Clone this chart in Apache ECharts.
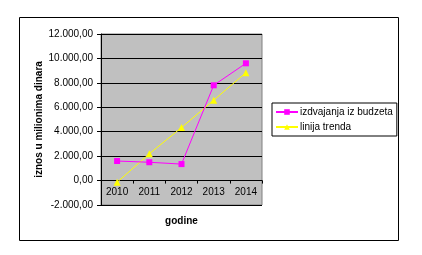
<!DOCTYPE html>
<html><head><meta charset="utf-8">
<script src="https://cdn.jsdelivr.net/npm/echarts@6/dist/echarts.min.js"></script>
<style>html,body{margin:0;padding:0;background:#fff}#c{width:422px;height:255px}</style>
</head><body><div id="c"></div>
<script>
const categories = ['2010','2011','2012','2013','2014'];
const budget = [1600, 1500, 1350, 7800, 9600];
const trend = [-140, 2190, 4340, 6580, 8830];
const seriesNames = ['izdvajanja iz budzeta', 'linija trenda'];
const yTicks = {min: -2000, max: 12000, interval: 2000};

function fmt(v){
  const neg = v < 0; v = Math.abs(v);
  const s = Math.round(v).toString().replace(/\B(?=(\d{3})+(?!\d))/g, '.');
  return (neg ? '-' : '') + s + ',00';
}
const font = 'Liberation Sans, Arial, sans-serif';
const gridH = 171;
const zeroOffset = gridH * (0 - yTicks.min) / (yTicks.max - yTicks.min);
const chart = echarts.init(document.getElementById('c'), null, {renderer:'canvas'});
chart.setOption({
  animation: false,
  backgroundColor: '#fff',
  textStyle: {fontFamily: font},
  graphic: [{type:'rect', shape:{x:19.5, y:17.5, width:379, height:223}, style:{fill:'none', stroke:'#000', lineWidth:1}, silent:true, z:-1}],
  grid: {left:101, top:34, width:161, height:gridH, show:true, backgroundColor:'#C0C0C0', borderColor:'#808080', borderWidth:1},
  legend: {
    orient:'vertical', left:272, top:103, width: 118,
    backgroundColor:'#fff', borderColor:'#000', borderWidth:1, borderRadius:0,
    padding:[4,4,4,3], itemGap:5, itemWidth:22, itemHeight:7,
    textStyle:{fontFamily:font, fontSize:10, color:'#000', padding:[0,0,0,-3]},
    data: seriesNames
  },
  xAxis: {
    type:'category', data: categories, boundaryGap:true, position:'bottom', offset: -zeroOffset,
    name:'godine', nameLocation:'middle', nameGap:36,
    nameTextStyle:{fontFamily:font, fontSize:10, fontWeight:'bold', color:'#000'},
    axisLine:{onZero:false, lineStyle:{color:'#000', width:1}},
    axisTick:{show:true, inside:false, length:3, lineStyle:{color:'#000'}},
    axisLabel:{fontFamily:font, fontSize:10, color:'#000', margin:7},
    splitLine:{show:false}
  },
  yAxis: {
    type:'value', min:yTicks.min, max:yTicks.max, interval:yTicks.interval,
    name:'iznos u milionima dinara', nameLocation:'middle', nameGap:57, nameRotate:90,
    nameTextStyle:{fontFamily:font, fontSize:10, fontWeight:'bold', color:'#000'},
    axisLine:{show:true, lineStyle:{color:'#000'}},
    axisTick:{show:true, length:4, lineStyle:{color:'#000'}},
    axisLabel:{fontFamily:font, fontSize:10, color:'#000', margin:8, formatter: fmt},
    splitLine:{show:true, lineStyle:{color:'#000', width:1}}
  },
  series: [
    {name: seriesNames[0], type:'line', data: budget, symbol:'rect', symbolSize:6,
     lineStyle:{color:'#FF00FF', width:1}, itemStyle:{color:'#FF00FF'}, z:3},
    {name: seriesNames[1], type:'line', data: trend, symbol:'triangle', symbolSize:7,
     lineStyle:{color:'#FFFF00', width:1}, itemStyle:{color:'#FFFF00'}, z:2}
  ]
});
</script></body></html>
